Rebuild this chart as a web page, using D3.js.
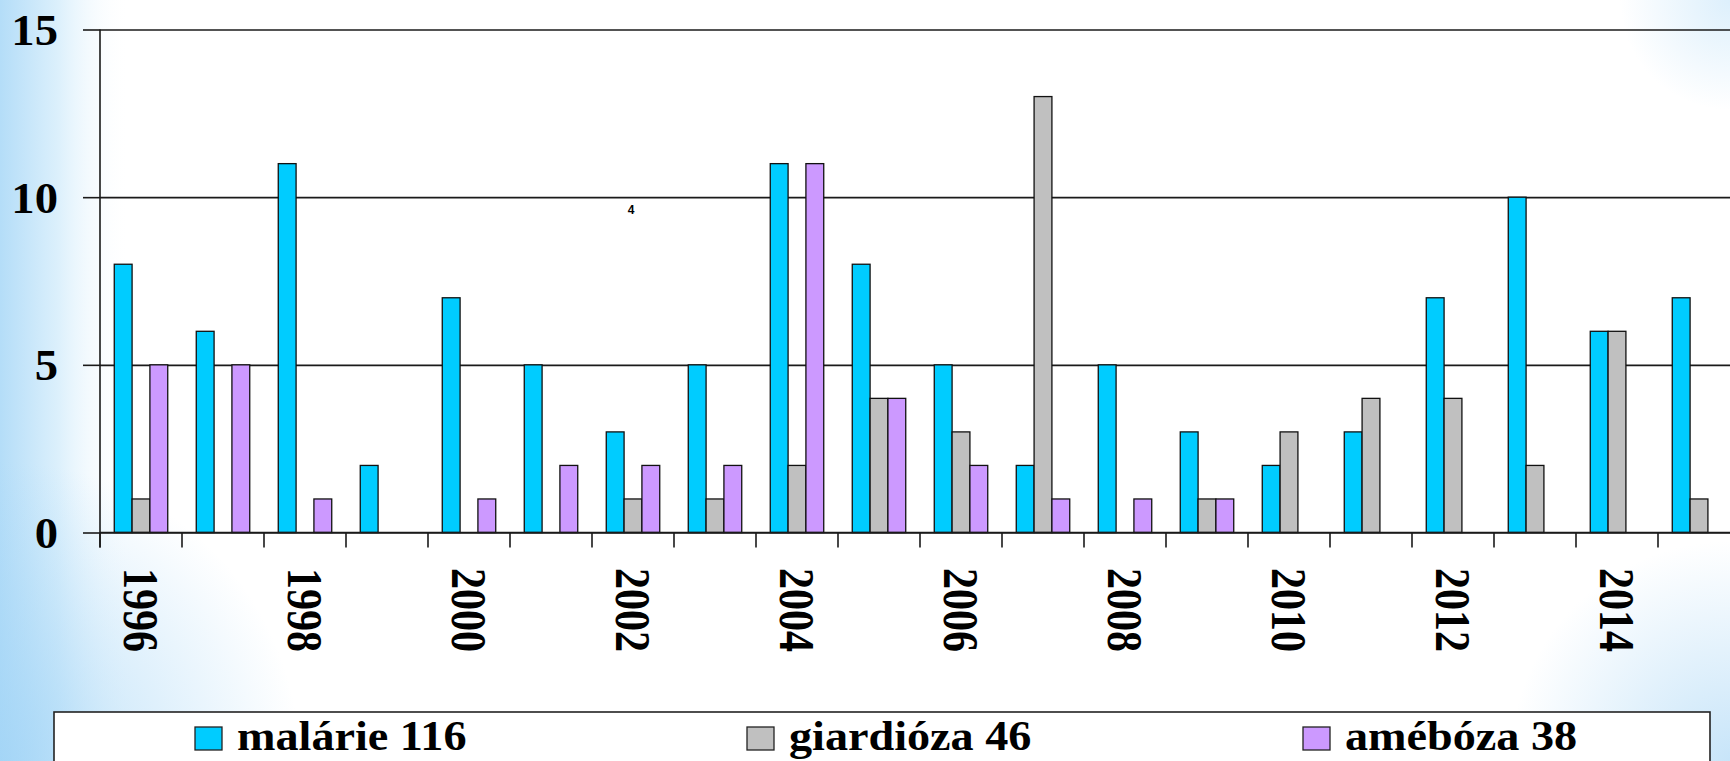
<!DOCTYPE html>
<html lang="cs">
<head>
<meta charset="utf-8">
<title>malárie, giardióza, amébóza</title>
<script src="https://d3js.org/d3.v7.min.js"></script>
<style>
  body { margin: 0; background: #fff; }
  svg { display: block; }
</style>
</head>
<body>
<script>

// data
var years = [1996, 1997, 1998, 1999, 2000, 2001, 2002, 2003, 2004, 2005,
             2006, 2007, 2008, 2009, 2010, 2011, 2012, 2013, 2014, 2015];
var malarie   = [8, 6, 11, 2, 7, 5, 3, 5, 11, 8, 5, 2, 5, 3, 2, 3, 7, 10, 6, 7];
var giardioza = [1, 0, 0, 0, 0, 0, 1, 1, 2, 4, 3, 13, 0, 1, 3, 4, 4, 2, 6, 1];
var ameboza   = [5, 5, 1, 0, 1, 2, 2, 2, 11, 4, 2, 1, 1, 1, 0, 0, 0, 0, 0, 0];
var seriesNames = ["malárie 116", "giardióza 46", "amébóza 38"];
var yTicks = [0, 5, 10, 15];
var xTickLabels = [1996, 1998, 2000, 2002, 2004, 2006, 2008, 2010, 2012, 2014];

var colors = ["#00ccff", "#c0c0c0", "#cc99ff"];
var serif = "'Liberation Serif', 'Times New Roman', serif";

var w = 1730, h = 761;
var plotL = 100, plotR = 1740, plotT = 29.5, plotB = 532.5;

var svg = d3.select("body").append("svg").attr("width", w).attr("height", h);

// slide background with soft blue edges
var defs = svg.append("defs");
var lg = defs.append("linearGradient").attr("id", "leftFade");
lg.append("stop").attr("offset", 0).attr("stop-color", "#b4ddf8");
lg.append("stop").attr("offset", 0.45).attr("stop-color", "#dcf0fc");
lg.append("stop").attr("offset", 1).attr("stop-color", "#ffffff").attr("stop-opacity", 0);

function radial(id, cx, cy, r, col, op) {
  var g = defs.append("radialGradient").attr("id", id)
    .attr("gradientUnits", "userSpaceOnUse")
    .attr("cx", cx).attr("cy", cy).attr("r", r);
  g.append("stop").attr("offset", 0).attr("stop-color", col).attr("stop-opacity", op);
  g.append("stop").attr("offset", 1).attr("stop-color", col).attr("stop-opacity", 0);
}
radial("blCorner", 0, h, 300, "#9fd3f6", 0.75);
radial("trCorner", w, 0, 110, "#c6e5fa", 0.6);
radial("brCorner", w, h, 220, "#b5dcf7", 0.75);

svg.append("rect").attr("width", w).attr("height", h).attr("fill", "#fff");
svg.append("rect").attr("width", 130).attr("height", h).attr("fill", "url(#leftFade)");
svg.append("rect").attr("width", w).attr("height", h).attr("fill", "url(#blCorner)");
svg.append("rect").attr("width", w).attr("height", h).attr("fill", "url(#trCorner)");
svg.append("rect").attr("width", w).attr("height", h).attr("fill", "url(#brCorner)");

// scales
var x = d3.scaleBand().domain(years).range([plotL, plotR]).padding(0);
var bw = x.bandwidth() / 4.6;
var xs = d3.scaleBand().domain([0, 1, 2]).range([0, bw * 3]);
var groupOffset = (x.bandwidth() - bw * 3) / 2;
var y = d3.scaleLinear().domain([0, 15]).range([plotB, plotT]);

// gridlines
svg.append("g")
  .attr("transform", "translate(" + plotL + ",0)")
  .call(d3.axisLeft(y).tickValues(yTicks).tickSize(-(plotR - plotL)).tickFormat(""))
  .call(function(g) {
    g.select(".domain").remove();
    g.selectAll("line").attr("stroke", "#1a1a1a").attr("stroke-width", 1.6);
  });

// y axis with outside ticks and labels
svg.append("g")
  .attr("transform", "translate(" + plotL + ",0)")
  .call(d3.axisLeft(y).tickValues(yTicks).tickSize(17))
  .call(function(g) {
    g.select(".domain").remove();
    g.selectAll("line").attr("stroke", "#1a1a1a").attr("stroke-width", 1.6);
    g.selectAll("text")
      .attr("font-family", serif).attr("font-weight", "bold")
      .attr("font-size", 44).attr("fill", "#000")
      .attr("x", 0).attr("dy", "0.34em")
      .attr("text-anchor", "end")
      .attr("transform", "translate(-42,0) scale(1.06,1)");
  });

svg.append("line")
  .attr("x1", plotL).attr("x2", plotL).attr("y1", plotT).attr("y2", plotB + 15)
  .attr("stroke", "#1a1a1a").attr("stroke-width", 1.6);

// category boundary ticks
svg.append("g").selectAll("line")
  .data(years)
  .enter().append("line")
  .attr("x1", function(d) { return x(d); })
  .attr("x2", function(d) { return x(d); })
  .attr("y1", plotB).attr("y2", plotB + 15)
  .attr("stroke", "#1a1a1a").attr("stroke-width", 1.6);

// bars
var series = [malarie, giardioza, ameboza];
series.forEach(function(vals, si) {
  svg.append("g").selectAll("rect")
    .data(vals.map(function(v, i) { return {year: years[i], v: v}; })
              .filter(function(d) { return d.v > 0; }))
    .enter().append("rect")
    .attr("x", function(d) { return x(d.year) + groupOffset + xs(si); })
    .attr("width", xs.bandwidth())
    .attr("y", function(d) { return y(d.v); })
    .attr("height", function(d) { return y(0) - y(d.v); })
    .attr("fill", colors[si])
    .attr("stroke", "#111").attr("stroke-width", 1.3);
});

// baseline on top of bars
svg.append("line")
  .attr("x1", plotL).attr("x2", plotR).attr("y1", plotB).attr("y2", plotB)
  .attr("stroke", "#1a1a1a").attr("stroke-width", 1.6);

// rotated year labels
svg.append("g").selectAll("text")
  .data(xTickLabels)
  .enter().append("text")
  .attr("transform", function(d) {
    return "translate(" + (x(d) + x.bandwidth() / 2) + ",568) rotate(90) scale(1,1.2)";
  })
  .attr("dy", "0.34em")
  .attr("font-family", serif).attr("font-weight", "bold")
  .attr("font-size", 42).attr("fill", "#000")
  .text(function(d) { return d; });

// stray label
svg.append("text")
  .attr("x", x(2002) + x.bandwidth() / 2 - 2).attr("y", y(9.5))
  .attr("text-anchor", "middle")
  .attr("font-family", "'Liberation Sans', Arial, sans-serif")
  .attr("font-weight", "bold").attr("font-size", 12)
  .text("4");

// legend
var legendL = 54, legendR = 1710, legendT = 712;
svg.append("rect")
  .attr("x", legendL).attr("y", legendT)
  .attr("width", legendR - legendL).attr("height", 80)
  .attr("fill", "#fff").attr("stroke", "#222").attr("stroke-width", 1.6);

var legendX = [195, 747, 1303];
var li = svg.append("g").selectAll("g")
  .data(seriesNames)
  .enter().append("g")
  .attr("transform", function(d, i) { return "translate(" + legendX[i] + "," + (legendT + 15) + ")"; });

li.append("rect")
  .attr("width", 27).attr("height", 23)
  .attr("fill", function(d, i) { return colors[i]; })
  .attr("stroke", "#222").attr("stroke-width", 1.3);

li.append("text")
  .attr("transform", "translate(42,23) scale(1.1,1)")
  .attr("font-family", serif).attr("font-weight", "bold")
  .attr("font-size", 42).attr("fill", "#000")
  .text(function(d) { return d; });

</script>
</body>
</html>
